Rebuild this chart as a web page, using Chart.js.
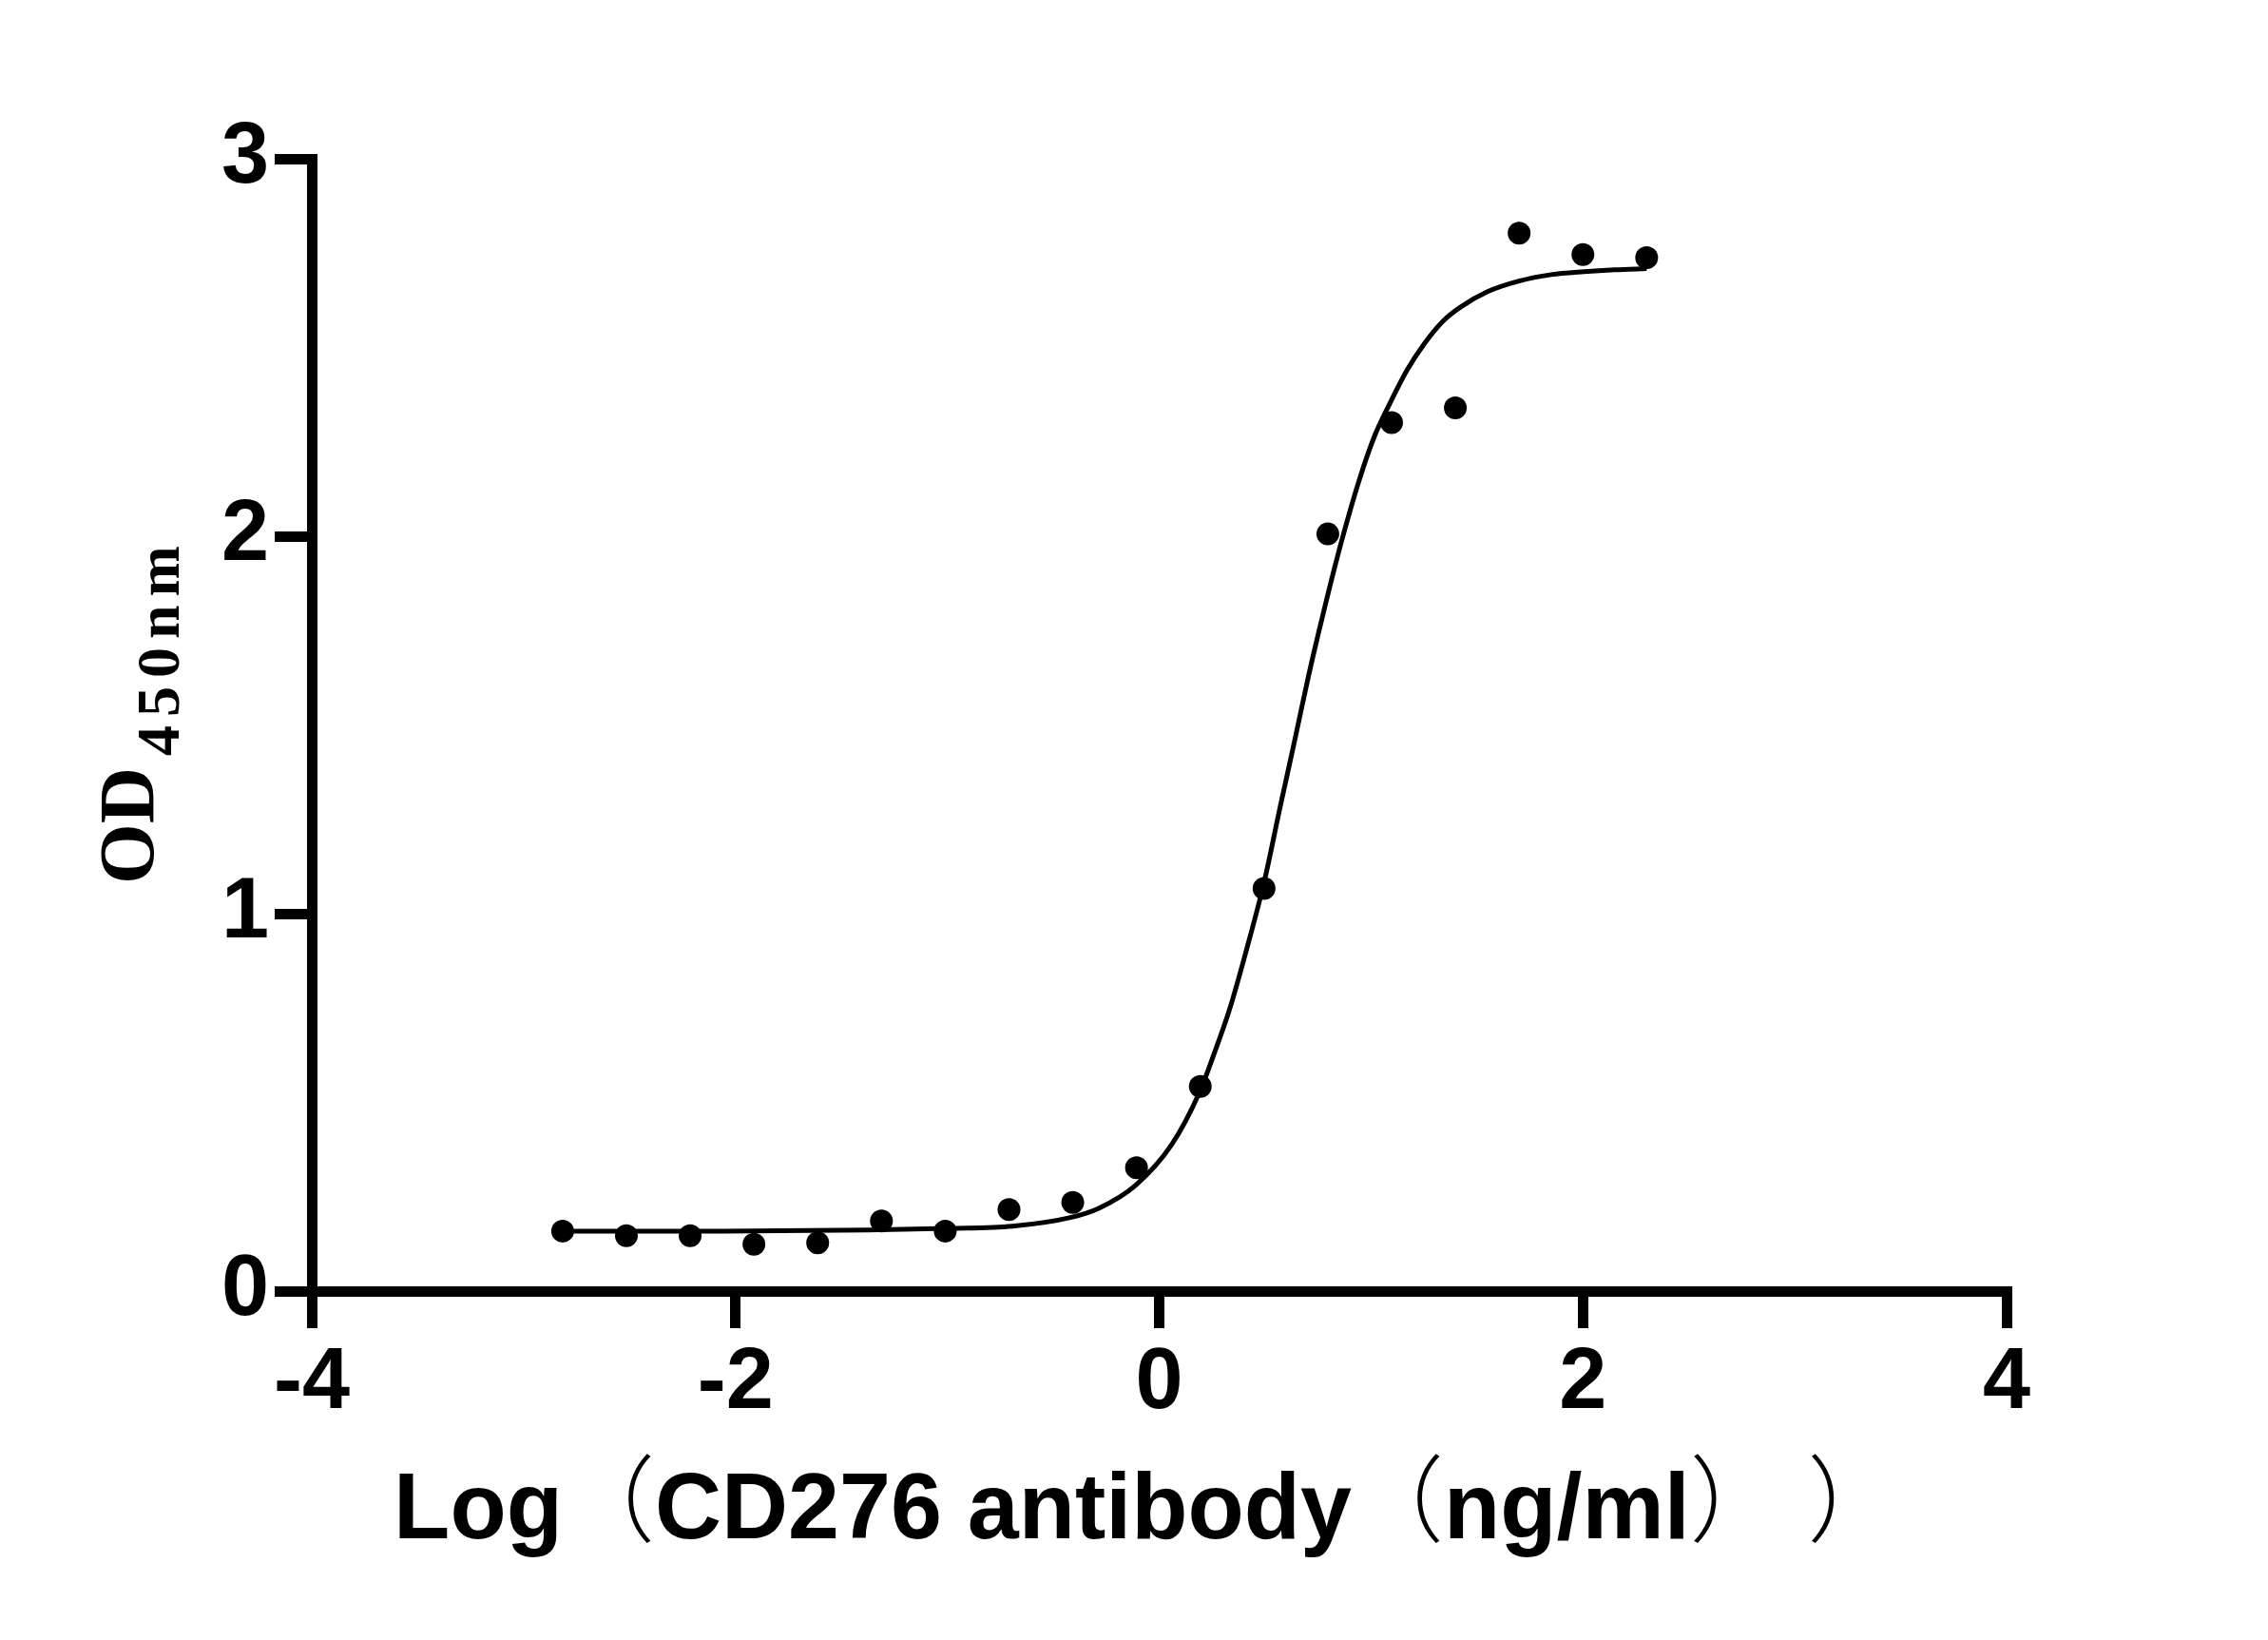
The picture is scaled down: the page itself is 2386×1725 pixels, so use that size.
<!DOCTYPE html>
<html>
<head>
<meta charset="utf-8">
<script src="https://cdn.jsdelivr.net/npm/chart.js@4"></script>
<style>
  html, body { margin: 0; padding: 0; background: #fff; }
  canvas { display: block; }
</style>
</head>
<body>
<canvas id="odChart" width="2386" height="1725"></canvas>
<script>
// measured points: log concentration (ng/ml) vs OD450
const logConc = [-2.816, -2.515, -2.214, -1.913, -1.612, -1.311, -1.010, -0.709, -0.408, -0.107,
                 0.194, 0.495, 0.796, 1.097, 1.398, 1.699, 2.000, 2.301];
const odValues = [0.159, 0.147, 0.147, 0.124, 0.128, 0.186, 0.159, 0.216, 0.235, 0.327,
                  0.542, 1.067, 2.006, 2.301, 2.340, 2.803, 2.746, 2.738];

// fitted curve
const fitX = [-2.816, -2.059, -1.376, -0.993, -0.693, -0.419, -0.283, -0.112, 0.059, 0.189,
              0.260, 0.332, 0.410, 0.496, 0.570, 0.639, 0.705, 0.775, 0.860, 0.946,
              1.020, 1.096, 1.170, 1.254, 1.340, 1.425, 1.550, 1.698, 1.850, 2.005,
              2.150, 2.301];
const fitY = [0.159, 0.159, 0.162, 0.166, 0.172, 0.195, 0.220, 0.280, 0.388, 0.525,
              0.630, 0.746, 0.900, 1.085, 1.280, 1.457, 1.630, 1.797, 1.985, 2.152,
              2.270, 2.360, 2.440, 2.512, 2.570, 2.608, 2.648, 2.676, 2.693, 2.701,
              2.706, 2.709];

const xTicks = [-4, -2, 0, 2, 4];
const yTicks = [0, 1, 2, 3];

const xTitle = "Log（CD276 antibody（ng/ml） ）";
const yTitleMain = "OD";
const yTitleSub = "450nm";

const points = logConc.map((x, i) => ({ x: x, y: odValues[i] }));
const curve = fitX.map((x, i) => ({ x: x, y: fitY[i] }));

const boldFont = 'bold 99px "Liberation Sans", Arial, sans-serif';
const parenFont = '300 99px "Noto Sans CJK SC", sans-serif';

// axis titles drawn by hand (thin brackets in x title, subscript in y title)
const titlePlugin = {
    id: "axisTitles",
    afterDraw(chart) {
        const ctx = chart.ctx;
        ctx.save();
        ctx.fillStyle = "#000";
        ctx.textBaseline = "alphabetic";
        ctx.textAlign = "left";

        // x title: split on the full width brackets so they can be thin
        const parts = xTitle.split(/([（）])/).filter(s => s.length);
        const fontFor = s => (s === "（" || s === "）") ? parenFont : boldFont;
        let total = 0;
        const widths = parts.map(s => {
            ctx.font = fontFor(s);
            const w = ctx.measureText(s).width;
            total += w;
            return w;
        });
        // ink of the last bracket ends well before its advance
        ctx.font = parenFont;
        const lastInk = ctx.measureText("）").actualBoundingBoxRight;
        const inkWidth = total - widths[widths.length - 1] + lastInk;
        ctx.font = boldFont;
        const firstLeft = -ctx.measureText(parts[0]).actualBoundingBoxLeft;
        const s = (1930 - 420) / (inkWidth - firstLeft);
        ctx.save();
        ctx.translate(420 - firstLeft * s, 1618);
        ctx.scale(s, 1);
        let x = 0;
        parts.forEach((p, i) => {
            ctx.font = fontFor(p);
            ctx.fillText(p, x, (p === "（" || p === "）") ? -4 : 0);
            x += widths[i];
        });
        ctx.restore();

        // y title, rotated
        ctx.save();
        ctx.translate(161, 930);
        ctx.rotate(-Math.PI / 2);
        ctx.font = 'bold 82px "Liberation Serif", serif';
        ctx.fillText(yTitleMain, 0, 0);
        const mw = ctx.measureText(yTitleMain).width;
        ctx.font = 'bold 64px "Liberation Serif", serif';
        ctx.letterSpacing = "9px";
        ctx.fillText(yTitleSub, mw + 12, 27);
        ctx.restore();

        ctx.restore();
    }
};

const tickFont = { family: '"Liberation Sans", Arial, sans-serif', size: 90, weight: "bold" };

const ctx = document.getElementById("odChart").getContext("2d");
new Chart(ctx, {
    type: "scatter",
    data: {
        datasets: [
            {
                label: "fit",
                data: curve,
                showLine: true,
                borderColor: "#000",
                borderWidth: 5,
                pointRadius: 0,
                cubicInterpolationMode: "monotone",
                fill: false
            },
            {
                label: "OD450",
                data: points,
                showLine: false,
                pointRadius: 12,
                pointHoverRadius: 12,
                backgroundColor: "#000",
                borderColor: "#000",
                borderWidth: 0
            }
        ]
    },
    options: {
        responsive: false,
        animation: false,
        layout: { padding: { left: 0, top: 167, right: 275, bottom: 0 } },
        plugins: {
            legend: { display: false },
            tooltip: { enabled: false }
        },
        scales: {
            x: {
                type: "linear",
                min: -4,
                max: 4,
                afterFit(scale) { scale.height = 367; },
                afterBuildTicks(scale) { scale.ticks = xTicks.map(v => ({ value: v })); },
                border: { display: true, color: "#000", width: 11 },
                grid: {
                    display: true,
                    drawOnChartArea: false,
                    drawTicks: true,
                    tickLength: 39,
                    lineWidth: 11,
                    color: "#000"
                },
                ticks: {
                    color: "#000",
                    padding: 5,
                    maxRotation: 0,
                    font: tickFont
                }
            },
            y: {
                type: "linear",
                min: 0,
                max: 3,
                afterFit(scale) { scale.width = 328; },
                afterBuildTicks(scale) { scale.ticks = yTicks.map(v => ({ value: v })); },
                border: { display: true, color: "#000", width: 11 },
                grid: {
                    display: true,
                    drawOnChartArea: false,
                    drawTicks: true,
                    tickLength: 39,
                    lineWidth: 11,
                    color: "#000"
                },
                ticks: {
                    color: "#000",
                    padding: 6,
                    font: tickFont
                }
            }
        }
    },
    plugins: [titlePlugin]
});
</script>
</body>
</html>
